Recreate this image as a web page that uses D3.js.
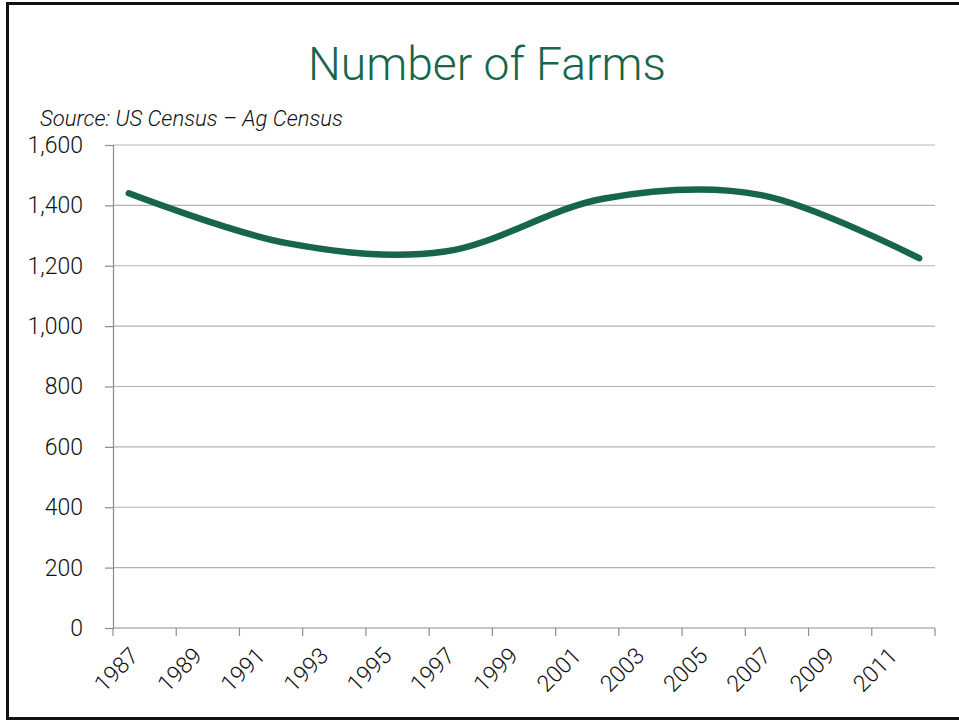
<!DOCTYPE html>
<html>
<head>
<meta charset="utf-8">
<script src="https://cdn.jsdelivr.net/npm/d3@7"></script>
<style>
  html, body { margin: 0; padding: 0; background: #fff; }
  svg { display: block; }
</style>
</head>
<body>
<svg id="chart" width="959" height="721"></svg>
<script>
// Category axis: one slot per year
const years = [1987, 1988, 1989, 1990, 1991, 1992, 1993, 1994, 1995, 1996, 1997, 1998, 1999,
               2000, 2001, 2002, 2003, 2004, 2005, 2006, 2007, 2008, 2009, 2010, 2011, 2012];
// Census years with farm counts
const censusYears = [1987, 1992, 1997, 2002, 2007, 2012];
const farmCounts = [1440, 1275, 1247, 1422, 1434, 1225];
const yTicks = [0, 200, 400, 600, 800, 1000, 1200, 1400, 1600];

const title = "Number of Farms";
const source = "Source: US Census \u2013 Ag Census";

const green = "#17664b";
const font = "Roboto, 'Helvetica Neue', Arial, sans-serif";

const svg = d3.select("#chart");

// Shrink or grow a text node's font so it spans the given width
function fitWidth(sel, width) {
  const node = sel.node();
  const fs = parseFloat(sel.attr("font-size"));
  const w = node.getComputedTextLength();
  if (w > 0) sel.attr("font-size", (fs * width / w).toFixed(2));
  return sel;
}

// Frame
svg.append("rect")
  .attr("x", 7.5).attr("y", 3.5)
  .attr("width", 980).attr("height", 715)
  .attr("fill", "none").attr("stroke", "#111").attr("stroke-width", 3);

const plot = { left: 113, right: 935, top: 145, bottom: 628 };

const x = d3.scaleBand().domain(years).range([plot.left, plot.right]).padding(0);
const y = d3.scaleLinear().domain([0, 1600]).range([plot.bottom, plot.top]);
const cx = yr => x(yr) + x.bandwidth() / 2;

// Horizontal gridlines
svg.append("g").selectAll("line")
  .data(yTicks.filter(d => d > 0))
  .join("line")
  .attr("x1", plot.left).attr("x2", plot.right)
  .attr("y1", d => y(d)).attr("y2", d => y(d))
  .attr("stroke", "#b3b3b3").attr("stroke-width", 1.2);

// Y axis
const yAxis = svg.append("g")
  .attr("transform", `translate(${plot.left},0)`)
  .call(d3.axisLeft(y).tickValues(yTicks).tickSize(8).tickPadding(22)
        .tickFormat(d3.format(",")));
yAxis.select(".domain").attr("stroke", "#8c8c8c").attr("stroke-width", 1.2);
yAxis.selectAll(".tick line").attr("stroke", "#8c8c8c").attr("stroke-width", 1.2);
yAxis.selectAll(".tick text")
  .attr("font-family", font).attr("font-weight", 300)
  .attr("font-size", 23).attr("fill", "#111");

// X axis baseline and tick marks between every second category
const xg = svg.append("g");
xg.append("line")
  .attr("x1", plot.left).attr("x2", plot.right)
  .attr("y1", plot.bottom).attr("y2", plot.bottom)
  .attr("stroke", "#8c8c8c").attr("stroke-width", 1.2);
const tickPos = years.filter((d, i) => i % 2 === 0).map(d => x(d)).concat([plot.right]);
xg.selectAll("line.tk")
  .data(tickPos)
  .join("line").attr("class", "tk")
  .attr("x1", d => d).attr("x2", d => d)
  .attr("y1", plot.bottom).attr("y2", plot.bottom + 8)
  .attr("stroke", "#8c8c8c").attr("stroke-width", 1.2);

// Rotated year labels
xg.selectAll("text")
  .data(years.filter((d, i) => i % 2 === 0))
  .join("text")
  .attr("transform", d => `translate(${cx(d) - 1},${plot.bottom + 17}) rotate(-45)`)
  .attr("text-anchor", "end")
  .attr("dy", "0.75em")
  .attr("font-family", font).attr("font-weight", 300)
  .attr("font-size", 23).attr("fill", "#111")
  .text(d => d);

// Smoothed data line
const pts = censusYears.map((yr, i) => [cx(yr), y(farmCounts[i])]);
svg.append("path")
  .attr("d", d3.line().curve(d3.curveCardinal.tension(0))(pts))
  .attr("fill", "none")
  .attr("stroke", green)
  .attr("stroke-width", 6.5)
  .attr("stroke-linecap", "round")
  .attr("stroke-linejoin", "round");

// Title and source note
const titleText = svg.append("text")
  .attr("x", 487).attr("y", 80)
  .attr("text-anchor", "middle")
  .attr("font-family", font).attr("font-weight", 300)
  .attr("font-size", 49).attr("fill", green)
  .text(title);
fitWidth(titleText, 358);

const sourceText = svg.append("text")
  .attr("x", 40).attr("y", 126)
  .attr("font-family", font).attr("font-weight", 300).attr("font-style", "italic")
  .attr("font-size", 19).attr("fill", "#111")
  .text(source);
fitWidth(sourceText, 303);
</script>
</body>
</html>
